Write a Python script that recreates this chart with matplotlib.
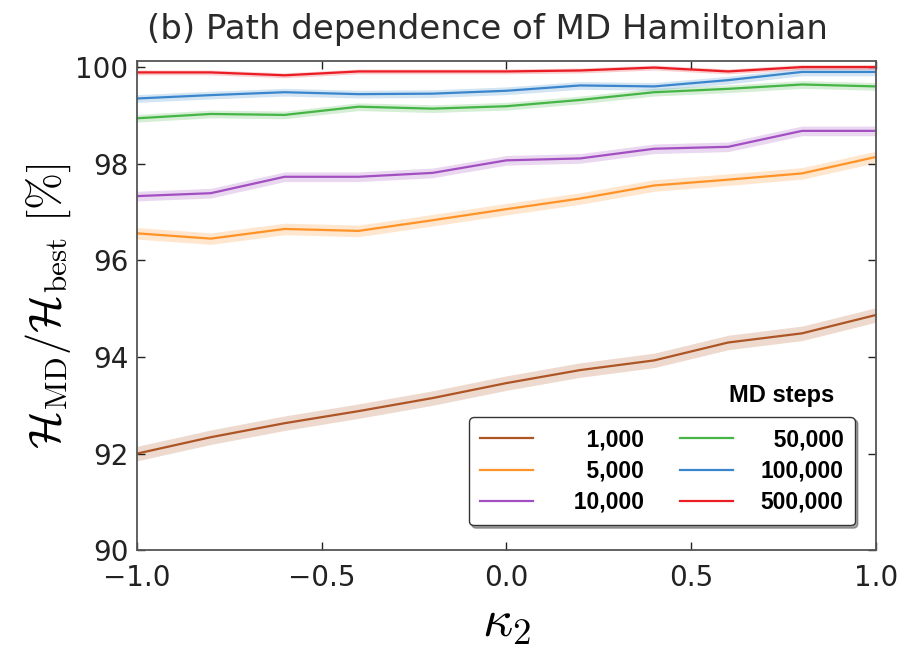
import matplotlib
matplotlib.use('Agg')
import matplotlib.pyplot as plt
import numpy as np

# kappa_2 grid
kappa2 = [-1.0, -0.8, -0.6, -0.4, -0.2, 0.0, 0.2, 0.4, 0.6, 0.8, 1.0]

# H_MD / H_best [%] for each number of MD steps
h_1000 = [92.00, 92.34, 92.63, 92.88, 93.15, 93.46, 93.73, 93.93, 94.30, 94.49, 94.87]
h_5000 = [96.56, 96.45, 96.65, 96.61, 96.83, 97.06, 97.28, 97.55, 97.67, 97.80, 98.14]
h_10000 = [97.33, 97.39, 97.73, 97.73, 97.81, 98.07, 98.11, 98.31, 98.35, 98.68, 98.68]
h_50000 = [98.94, 99.03, 99.01, 99.18, 99.14, 99.19, 99.32, 99.48, 99.55, 99.64, 99.60]
h_100000 = [99.35, 99.42, 99.48, 99.44, 99.45, 99.51, 99.62, 99.60, 99.73, 99.90, 99.90]
h_500000 = [99.89, 99.89, 99.83, 99.91, 99.91, 99.91, 99.93, 99.99, 99.91, 100.0, 100.0]

# half width of the shaded band
err_1000 = 0.15
err_5000 = 0.12
err_10000 = 0.10
err_50000 = 0.08
err_100000 = 0.08
err_500000 = 0.05

labels = ['1,000', '5,000', '10,000', '50,000', '100,000', '500,000']

series = [h_1000, h_5000, h_10000, h_50000, h_100000, h_500000]
errs = [err_1000, err_5000, err_10000, err_50000, err_100000, err_500000]
colors = ['#ad5524', '#ff9327', '#a24fc1', '#45b545', '#3a86cc', '#ea1c24']

plt.rcParams['mathtext.fontset'] = 'cm'
plt.rcParams['xtick.direction'] = 'in'
plt.rcParams['ytick.direction'] = 'in'

fig = plt.figure(figsize=(9.12, 6.52), dpi=100)
ax = fig.add_axes([0.150, 0.156, 0.8105, 0.750])

x = np.array(kappa2)
for y, e, c, lab in zip(series, errs, colors, labels):
    y = np.array(y)
    ax.fill_between(x, y - e, y + e, color=c, alpha=0.22, linewidth=0)
    ax.plot(x, y, color=c, linewidth=1.6, label=lab)

ax.set_xlim(-1.0, 1.0)
ax.set_ylim(90, 100.12)
ax.set_xticks([-1.0, -0.5, 0.0, 0.5, 1.0])
ax.set_yticks([90, 92, 94, 96, 98, 100])
ax.tick_params(axis='both', which='major', labelsize=20, length=6, width=1,
               top=True, right=True, colors='#222222')
ax.tick_params(axis='x', pad=10)
ax.tick_params(axis='y', pad=6)
for sp in ax.spines.values():
    sp.set_color('#555555')
    sp.set_linewidth(1.3)

ax.set_xlabel(r'$\kappa_2$', fontsize=38, labelpad=2)
ax.set_ylabel(r'$\mathcal{H}_{\rm MD}/\mathcal{H}_{\rm best}\ [\%]$', fontsize=32, labelpad=2)
fig.text(0.535, 0.955, '(b) Path dependence of MD Hamiltonian', fontsize=24.5,
         ha='center', va='center', color='#2a2a2a')

# pad with figure spaces so the labels read right aligned
handles = ax.get_lines()
leg_labels = ['\u2007' * (7 - len(s)) + s for s in labels]
leg = ax.legend(handles, leg_labels,
                ncol=2, loc='lower right', bbox_to_anchor=(0.9716, 0.051),
                borderaxespad=0.0,
                fancybox=True, shadow=True, frameon=True,
                prop={'family': 'Liberation Sans', 'weight': 'bold', 'size': 16.5},
                handlelength=2.3, columnspacing=1.6, labelspacing=0.36,
                borderpad=0.5, handletextpad=1.2)
leg.get_frame().set_edgecolor('#333333')
leg.get_frame().set_linewidth(1.0)
ax.text(0.944, 0.317, 'MD steps', transform=ax.transAxes, ha='right', va='center',
        fontsize=17, fontweight='bold', family='Liberation Sans')

fig.savefig('out.png', dpi=100)
